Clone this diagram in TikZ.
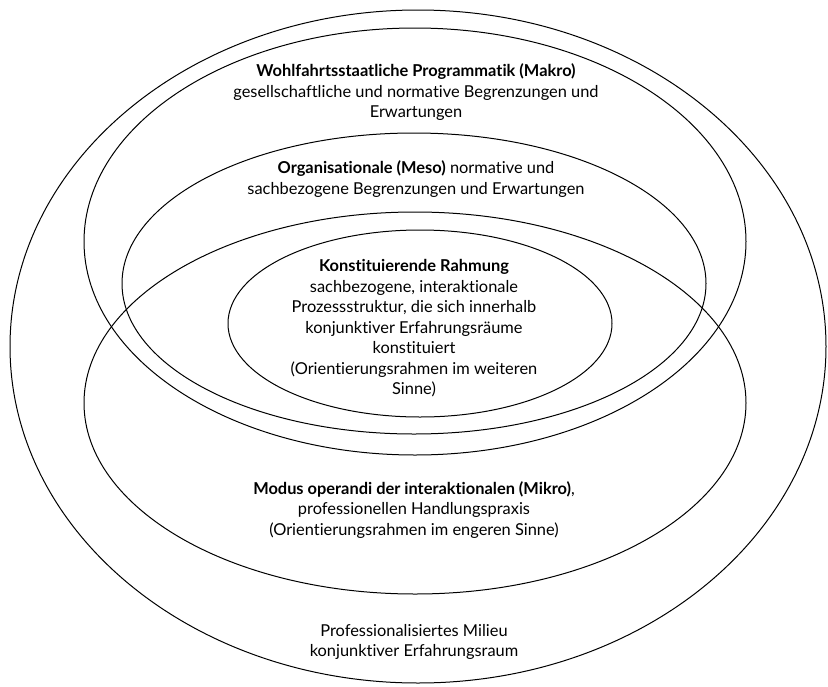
\documentclass[tikz,border=0pt]{standalone}
\usepackage{fontspec}
\setmainfont{Lato}[Ligatures=NoCommon]
\usepackage{tikz}

\tikzset{
  ring/.style={line width=1pt, black},
  label/.style={align=center, font=\fontsize{16.4}{20.5}\selectfont, inner sep=0pt}
}

\begin{document}
\begin{tikzpicture}[x=1pt, y=-1pt]
  \useasboundingbox (0,0) rectangle (828,686);

  % Ellipses
  \coordinate (milieu) at (418,346.5);
  \coordinate (makro) at (415,241.5);
  \coordinate (meso) at (414,283.5);
  \coordinate (mikro) at (415,403);
  \coordinate (rahmung) at (420,323.5);
  \draw[ring] (milieu) ellipse [x radius=408pt, y radius=336.5pt];
  \draw[ring] (makro) ellipse [x radius=331pt, y radius=213.5pt];
  \draw[ring] (meso) ellipse [x radius=292pt, y radius=150.5pt];
  \draw[ring] (mikro) ellipse [x radius=331pt, y radius=191pt];
  \draw[ring] (rahmung) ellipse [x radius=192pt, y radius=93.5pt];

  % Texts
  \node[label] (makrotext) at (416,92.5) {\textbf{Wohlfahrtsstaatliche Programmatik (Makro)}\\
    gesellschaftliche und normative Begrenzungen und\\ Erwartungen};
  \node[label] (mesotext) at (416,179) {\textbf{Organisationale (Meso)} normative und\\
    sachbezogene Begrenzungen und Erwartungen};
  \node[label] (rahmungtext) at (414,328.5) {\textbf{Konstituierende Rahmung}\\
    sachbezogene, interaktionale\\ Prozessstruktur, die sich innerhalb\\
    konjunktiver Erfahrungsräume\\ konstituiert\\
    (Orientierungsrahmen im weiteren\\ Sinne)};
  \node[label] (mikrotext) at (414,510) {\textbf{Modus operandi der interaktionalen (Mikro)},\\
    professionellen Handlungspraxis\\ (Orientierungsrahmen im engeren Sinne)};
  \node[label] (milieutext) at (414,642) {Professionalisiertes Milieu\\
    konjunktiver Erfahrungsraum};
\end{tikzpicture}
\end{document}
